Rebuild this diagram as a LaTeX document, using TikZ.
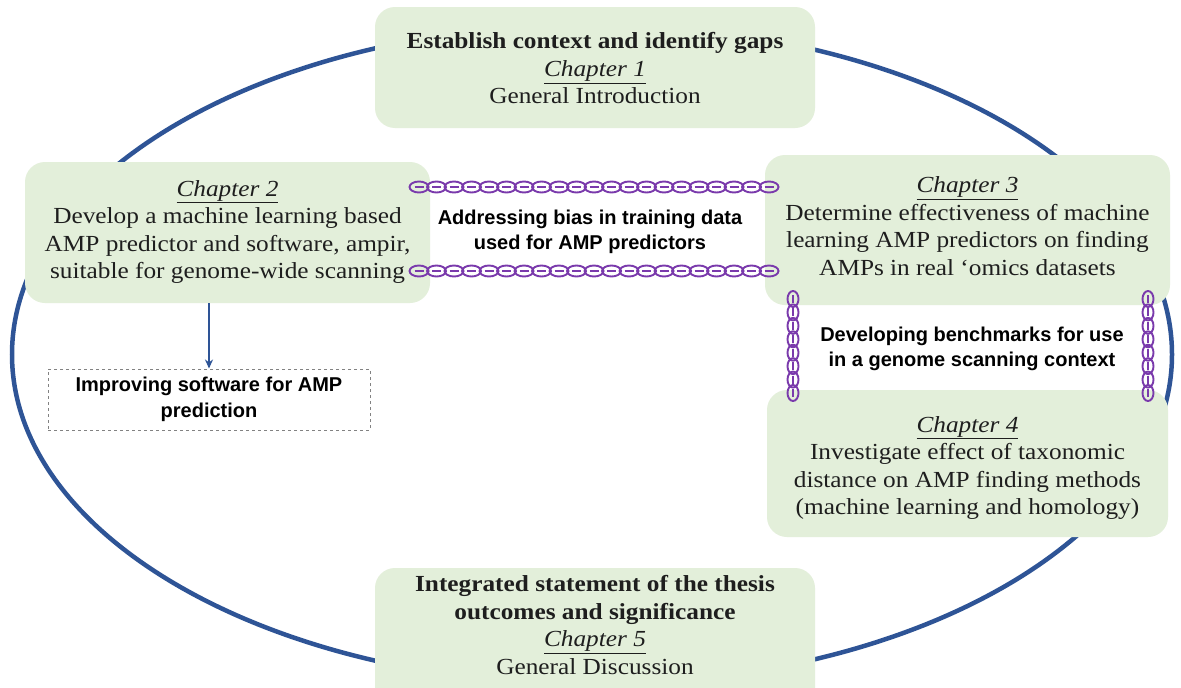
\documentclass[tikz,border=0pt]{standalone}
\usepackage{fontspec}
\setmainfont[FakeStretch=1.1]{Liberation Serif}
\newfontfamily\labelsans{Liberation Sans}
\usetikzlibrary{arrows.meta}
\definecolor{ringblue}{RGB}{46,84,150}
\definecolor{boxgreen}{RGB}{227,239,218}
\definecolor{chainpurple}{RGB}{122,58,172}
\definecolor{inkgray}{RGB}{30,30,30}
\definecolor{dashgray}{RGB}{130,130,130}
\tikzset{
  chapbox/.style={draw=none, fill=boxgreen, rounded corners=20pt, inner sep=0pt},
  chaptext/.style={align=center, text=inkgray, font=\fontsize{23}{27.5}\selectfont, inner sep=0pt},
  themetext/.style={align=center, text=black, font=\labelsans\bfseries\fontsize{20}{25}\selectfont, inner sep=0pt},
  chainlink/.style={draw=chainpurple, line width=1.9pt},
  chainbar/.style={draw=chainpurple, line width=1.4pt},
}
\newcommand\chaphead[1]{\underline{\textit{#1}}}
% horizontal chain: x-start, x-end, y, number of gaps
\newcommand\hchain[4]{%
  \foreach \k in {0,...,#4}{%
    \pgfmathsetmacro\cx{#1+(#2-#1)*\k/#4}%
    \draw[chainlink] (\cx,#3) ellipse [x radius=9.5, y radius=5.5];
    \draw[chainbar] (\cx-4.5,#3) -- (\cx+4.5,#3);
  }}
% vertical chain: x, y-start, y-end, number of gaps
\newcommand\vchain[4]{%
  \foreach \k in {0,...,#4}{%
    \pgfmathsetmacro\cy{#2+(#3-#2)*\k/#4}%
    \draw[chainlink] (#1,\cy) ellipse [x radius=5.5, y radius=8];
    \draw[chainbar] (#1,\cy-4) -- (#1,\cy+4);
  }}
\begin{document}
\begin{tikzpicture}[x=1pt, y=-1pt]
  \useasboundingbox (0,0) rectangle (1181,688);
  \fill[white] (0,0) rectangle (1181,688);

  % the cycle that links all chapters
  \draw[ringblue, line width=4.5pt] (592,354.5) ellipse [x radius=580, y radius=330];

  % chapter boxes
  \node[chapbox, minimum width=440pt, minimum height=121pt] (b1) at (595,67.5) {};
  \node[chapbox, minimum width=405pt, minimum height=141pt] (b2) at (227.5,232.5) {};
  \node[chapbox, minimum width=405pt, minimum height=150pt] (b3) at (967.5,230) {};
  \node[chapbox, minimum width=401pt, minimum height=147pt] (b4) at (967.5,463.5) {};
  \node[chapbox, minimum width=440pt, minimum height=140pt] (b5) at (595,638) {};

  % chapter texts
  \node[chaptext] (t1) at (595,68.5) {\textbf{Establish context and identify gaps}\\
    \chaphead{Chapter 1}\\ General Introduction};
  \node[chaptext] (t2) at (227.5,232) {\chaphead{Chapter 2}\\
    Develop a machine learning based\\ AMP predictor and software, ampir,\\
    suitable for genome-wide scanning};
  \node[chaptext] (t3) at (967.5,226) {\chaphead{Chapter 3}\\
    Determine effectiveness of machine\\ learning AMP predictors on finding\\
    AMPs in real ‘omics datasets};
  \node[chaptext] (t4) at (967.5,468) {\chaphead{Chapter 4}\\
    Investigate effect of taxonomic\\ distance on AMP finding methods\\
    (machine learning and homology)};
  \node[chaptext] (t5) at (595,625) {\textbf{Integrated statement of the thesis}\\
    \textbf{outcomes and significance}\\ \chaphead{Chapter 5}\\ General Discussion};

  % theme labels between chapters
  \node[themetext] (th1) at (590,232) {Addressing bias in training data\\ used for AMP predictors};
  \node[themetext] (th2) at (972,349) {Developing benchmarks for use\\ in a genome scanning context};

  % chains linking chapters
  \hchain{419}{769}{187}{20}
  \hchain{419}{769}{271}{20}
  \vchain{793}{299}{393}{7}
  \vchain{1148}{299}{393}{7}

  % spin-off outcome of chapter 2
  \node[draw=dashgray, dashed, line width=1pt, minimum width=322pt, minimum height=61pt,
        themetext, font=\labelsans\bfseries\fontsize{20}{26}\selectfont] (imp) at (209,399.5)
        {Improving software for AMP\\ prediction};
  \draw[ringblue, line width=2pt, -{Stealth[length=9pt, width=8pt]}]
    (imp.north |- b2.south) -- (imp.north);
\end{tikzpicture}
\end{document}
